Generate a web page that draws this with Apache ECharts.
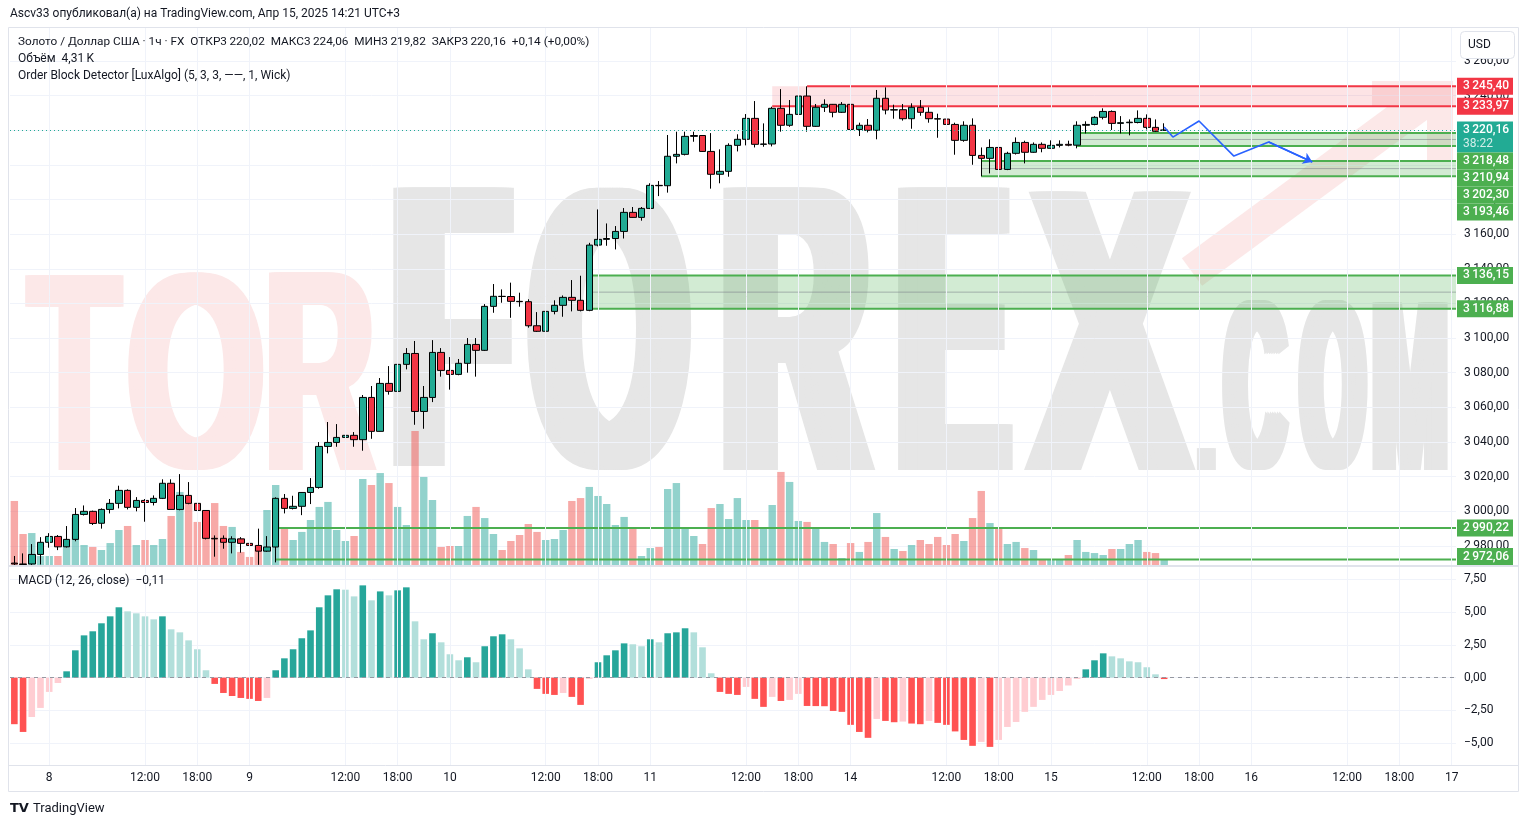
<!DOCTYPE html>
<html><head><meta charset="utf-8">
<script src="https://cdn.jsdelivr.net/npm/echarts@6/dist/echarts.min.js"></script>
<style>html,body{margin:0;padding:0;background:#fff;overflow:hidden}#c{width:1528px;height:827px}</style>
</head><body><div id="c"></div>
<script>
// ---------------- DATA ----------------
const opens  = [2970.0,2969.5,2969.5,2975.0,2982.0,2985.4,2979.4,2983.7,2998.1,2999.9,2993.0,3001.0,3004.5,3012.0,3002.2,3006.2,3005.0,3007.4,3016.1,3001.0,3009.1,3004.5,3000.4,2984.3,2984.3,2982.0,2984.0,2981.4,2980.2,2976.9,2979.3,3007.4,3001.6,3002.8,3010.8,3013.7,3037.4,3039.7,3042.6,3043.8,3041.3,3065.7,3046.1,3073.8,3069.2,3084.8,3091.1,3057.6,3065.7,3091.7,3081.3,3079.0,3085.4,3096.3,3092.9,3118.3,3124.1,3124.0,3121.2,3121.0,3107.1,3103.9,3115.4,3118.9,3123.5,3121.8,3116.0,3153.7,3157.0,3157.5,3161.6,3172.6,3169.7,3174.9,3188.2,3188.0,3205.0,3206.1,3216.5,3217.0,3207.8,3194.6,3196.3,3211.3,3214.8,3226.9,3211.9,3212.1,3232.7,3222.9,3229.2,3239.8,3222.3,3233.3,3235.0,3230.4,3235.0,3220.5,3222.9,3220.0,3238.5,3231.7,3231.9,3226.7,3233.3,3230.4,3226.7,3226.5,3223.4,3214.2,3222.9,3205.5,3203.8,3210.1,3197.4,3206.7,3213.0,3207.3,3211.9,3209.6,3211.3,3211.9,3211.4,3222.9,3223.4,3227.5,3230.9,3224.0,3224.4,3224.5,3226.9,3221.7,3220.02];
const closes = [2969.5,2969.2,2975.0,2982.0,2985.4,2979.4,2983.7,2998.1,2999.9,2992.9,3001.0,3004.5,3012.0,3002.2,3006.2,3005.0,3007.4,3016.1,3001.0,3009.1,3004.5,3000.4,2984.3,2984.0,2982.0,2984.0,2981.4,2980.2,2976.9,2979.3,3007.4,3001.6,3002.8,3010.8,3013.7,3037.4,3039.7,3042.6,3043.8,3041.3,3065.7,3046.1,3073.8,3069.2,3084.8,3091.1,3057.6,3065.7,3091.7,3081.3,3079.0,3085.4,3096.3,3092.9,3118.3,3124.1,3124.0,3121.2,3121.0,3107.1,3103.9,3115.4,3118.9,3123.5,3121.8,3116.0,3153.7,3157.0,3157.5,3161.6,3172.6,3169.7,3174.9,3188.2,3188.0,3205.0,3206.1,3216.5,3217.0,3207.8,3194.6,3196.3,3211.3,3214.8,3226.9,3211.9,3212.1,3232.7,3222.9,3229.2,3239.8,3222.3,3233.3,3235.0,3230.4,3235.0,3220.5,3222.9,3220.0,3238.5,3231.7,3231.9,3226.7,3233.3,3230.4,3226.7,3226.5,3223.4,3214.2,3222.9,3205.5,3203.8,3210.1,3197.4,3206.7,3213.0,3207.3,3211.9,3209.6,3211.3,3211.9,3211.4,3222.9,3223.4,3227.5,3230.9,3224.0,3224.4,3224.7,3226.9,3221.7,3219.4,3220.16];
const lows   = [2968.5,2968.8,2968.9,2969.2,2978.9,2977.5,2979.0,2982.6,2997.5,2992.0,2989.9,2998.7,3001.6,3001.0,2999.9,2993.9,3003.3,3007.0,3001.0,3000.5,3004.0,3000.0,2983.7,2973.7,2978.3,2975.6,2976.0,2978.9,2969.0,2976.5,2970.4,2998.7,3001.0,2997.7,3004.1,3013.0,3033.4,3037.2,3037.8,3037.2,3034.9,3041.8,3046.0,3067.3,3064.4,3081.9,3049.9,3047.6,3063.0,3077.7,3070.2,3078.5,3080.0,3077.7,3092.5,3114.6,3120.4,3111.7,3118.1,3106.0,3103.5,3102.5,3113.7,3112.3,3115.4,3115.4,3115.5,3153.0,3153.3,3151.2,3157.5,3169.5,3167.8,3174.5,3182.0,3184.0,3200.9,3205.5,3213.4,3207.5,3186.3,3189.4,3193.2,3207.8,3211.3,3210.1,3210.5,3210.7,3219.2,3222.0,3229.0,3219.2,3222.0,3230.6,3227.5,3230.0,3208.2,3216.7,3218.8,3214.8,3229.2,3226.7,3225.6,3220.9,3228.4,3224.4,3215.7,3220.2,3205.9,3213.4,3200.1,3193.46,3195.1,3196.1,3197.0,3206.0,3200.9,3207.0,3207.3,3209.4,3210.1,3210.8,3209.6,3218.2,3222.9,3226.3,3220.2,3218.2,3217.1,3224.0,3220.5,3219.0,3219.82];
const highs  = [2974.1,2975.6,2981.0,2985.0,2987.3,2986.2,2991.4,3001.8,3003.3,3000.3,3001.6,3007.0,3014.7,3012.6,3008.1,3007.0,3009.1,3018.4,3018.4,3021.4,3016.8,3011.0,3000.5,2986.0,2986.0,2985.5,2985.0,2983.7,2989.9,2985.6,3008.0,3009.9,3008.9,3011.0,3019.1,3039.9,3051.5,3050.3,3048.4,3045.7,3067.1,3072.3,3076.9,3083.8,3085.0,3094.2,3098.3,3072.3,3098.8,3094.2,3089.0,3087.9,3100.0,3100.0,3119.6,3131.2,3128.1,3132.0,3126.2,3122.4,3115.0,3116.6,3121.8,3124.6,3133.5,3136.0,3155.0,3174.3,3166.2,3164.7,3175.1,3175.7,3175.7,3189.4,3190.7,3217.3,3219.2,3219.2,3219.2,3217.2,3218.4,3209.0,3212.5,3217.7,3229.4,3236.9,3224.0,3233.6,3243.8,3237.5,3241.3,3245.4,3235.2,3237.9,3235.2,3236.3,3235.2,3224.4,3226.5,3243.3,3244.8,3234.8,3235.2,3235.6,3237.5,3233.3,3229.6,3230.9,3224.4,3225.2,3226.9,3210.1,3214.8,3210.5,3207.6,3215.9,3214.0,3213.0,3213.0,3214.2,3214.2,3214.0,3225.2,3225.2,3228.2,3232.7,3231.5,3228.2,3226.3,3231.5,3229.2,3226.3,3224.06];
// volume, thousands
const volumes = [46.1,22.3,23.0,6.5,6.5,6.5,18.7,33.8,14.4,13.0,10.8,15.8,25.2,28.1,14.4,18.0,14.4,18.7,35.3,52.6,44.6,31.0,33.8,44.6,28.1,27.4,9.4,5.8,14.4,39.6,57.6,26.6,18.0,23.8,32.4,41.8,45.4,25.2,17.3,20.9,61.9,57.6,66.2,59.0,41.8,28.8,96.5,63.4,46.8,13.0,13.7,13.7,35.3,41.8,33.8,22.3,10.8,17.3,21.6,29.5,23.8,18.0,18.7,25.2,46.1,48.2,56.2,49.7,43.9,28.8,34.6,26.6,6.5,12.2,13.0,54.7,59.0,26.6,20.9,15.1,41.0,43.9,33.1,48.2,32.4,32.4,26.6,43.2,67.0,59.8,31.7,31.0,25.9,16.6,15.1,5.0,15.8,9.4,16.6,37.4,20.2,11.5,10.1,14.4,18.0,15.1,20.2,14.4,22.3,17.3,33.8,53.3,30.2,25.9,15.1,16.6,12.2,10.8,4.3,3.6,3.6,7.2,18.0,9.4,8.6,7.2,11.5,11.5,15.1,18.0,9.4,8.6,4.31];
// MACD (12, 26, close) histogram
const macdHist = [-3.55,-4.14,-3.0,-2.31,-1.09,-0.41,
 0.48,2.08,3.22,3.53,4.14,4.67,5.36,5.05,4.9,4.67,4.44,4.67,3.68,3.45,2.84,2.16,0.56,
 -0.48,-1.17,-1.4,-1.55,-1.62,-1.78,-1.55,
 0.56,1.47,2.16,3.0,3.6,5.36,6.27,6.73,6.7,6.19,7.03,5.89,6.57,6.27,6.65,6.88,4.29,2.92,3.38,2.69,1.78,1.32,1.55,1.17,2.39,3.15,3.3,2.92,2.23,0.63,
 -0.86,-1.24,-1.32,-1.17,-1.47,-2.08,-0.1,
 1.17,1.7,2.08,2.61,2.54,2.39,2.92,2.69,3.38,3.45,3.76,3.45,2.31,0.33,
 -1.09,-1.24,-1.32,-0.71,-1.62,-2.23,-1.47,-1.78,-1.7,-1.24,-2.16,-2.17,-2.18,-2.54,-2.61,-3.6,-4.14,-4.59,-3.15,-3.3,-3.4,-3.35,-3.5,-3.55,-3.3,-3.45,-3.6,-4.1,-4.75,-5.2,-4.9,-5.28,-4.75,-3.76,-3.38,-2.61,-2.23,-1.7,-1.32,-1.02,-0.6,-0.1,
 0.63,1.32,1.85,1.62,1.47,1.24,1.17,0.79,0.25,-0.11];
// Order Block Detector zones
const obStart = [66, 111, 122, 30, 87];
const obLow   = [3116.88, 3193.46, 3210.94, 2972.06, 3233.97];
const obHigh  = [3136.15, 3202.30, 3218.48, 2990.22, 3245.40];
const obKind  = [0, 0, 0, 2, 1];          // 0 green filled, 1 bearish red, 2 green lines only
const obTopFrom = [66, 111, 122, 30, 91];
// hand-drawn projection (bar index, price)
const projBars   = [132, 133, 136, 140, 144, 149];
const projPrices = [3221.9, 3216.1, 3225.4, 3205.1, 3213.2, 3201.7];
const lastPrice = 3220.16;
const priceTicks = [2980,3000,3020,3040,3060,3080,3100,3120,3140,3160,3180,3200,3220,3240,3260];
const macdTicks = [-5,-2.5,0,2.5,5,7.5];
const TOTAL_BARS = 166;

// ---------------- time axis (FX gold session: 01:00-23:00, Mon-Fri, UTC+3) ----------------
const cats = [], catLabel = [];
{
  let t = Date.UTC(2025, 3, 7, 20);
  while (cats.length < TOTAL_BARS) {
    const d = new Date(t), h = d.getUTCHours(), wd = d.getUTCDay();
    if (h !== 0 && wd !== 0 && wd !== 6) {
      cats.push(d.getUTCDate() + ' ' + h);
      catLabel.push(h === 1 ? String(d.getUTCDate()) : (h === 12 ? '12:00' : (h === 18 ? '18:00' : '')));
    }
    t += 3600000;
  }
}
const labelIdx = catLabel.map((l, i) => l ? i : -1).filter(i => i >= 0);

// ---------------- styles ----------------
const UP = '#22ab94', DOWN = '#f23645';
const VOL_UP = 'rgba(38,166,154,0.5)', VOL_DOWN = 'rgba(239,83,80,0.5)';
const GRID = '#f0f3fa', TXT = '#131722', FONT = 'Roboto, "Liberation Sans", sans-serif';
const fmtPrice = v => { const p = v.toFixed(2).split('.'); return p[0].replace(/\B(?=(\d{3})+(?!\d))/g, '\u2009') + ',' + p[1]; };
const fmtMacd = v => (v < 0 ? '\u2212' : '') + Math.abs(v).toFixed(2).replace('.', ',');

const candleData = opens.map((o, i) => [o, closes[i], lows[i], highs[i]]);
const volData = volumes.map((v, i) => ({ value: v, itemStyle: { color: closes[i] >= opens[i] ? VOL_UP : VOL_DOWN } }));
const macdData = macdHist.map((v, i) => {
  const prev = i > 0 ? macdHist[i - 1] : (v >= 0 ? -Infinity : Infinity);
  let c;
  if (v >= 0) c = prev < v ? '#26a69a' : '#b2dfdb';
  else c = prev < v ? '#ffcdd2' : '#ff5252';
  return { value: v, itemStyle: { color: c } };
});
const zoneData = obStart.map((s, i) => [s, obLow[i], obHigh[i], obKind[i], obTopFrom[i]]);

function renderZone(params, api) {
  const s = api.value(0), lo = api.value(1), hi = api.value(2), kind = api.value(3), topFrom = api.value(4);
  const cs = params.coordSys; const xr = cs.x + cs.width;
  const pHi = api.coord([s, hi]), pLo = api.coord([s, lo]), pTop = api.coord([topFrom, hi]);
  const x0 = pHi[0];
  const children = [];
  if (kind === 0) {
    children.push({ type: 'rect', shape: { x: x0, y: pHi[1], width: xr - x0, height: pLo[1] - pHi[1] }, style: { fill: 'rgba(76,175,80,0.25)' } });
    const mid = api.coord([s, (hi + lo) / 2]);
    children.push({ type: 'line', shape: { x1: x0, y1: mid[1], x2: xr, y2: mid[1] }, style: { stroke: 'rgba(120,123,134,0.55)', lineWidth: 1 } });
  } else if (kind === 1) {
    children.push({ type: 'rect', shape: { x: x0, y: pHi[1], width: xr - x0, height: pLo[1] - pHi[1] }, style: { fill: 'rgba(242,54,69,0.14)' } });
  }
  const col = kind === 1 ? '#f23645' : '#4caf50';
  children.push({ type: 'line', shape: { x1: pTop[0], y1: pHi[1], x2: xr, y2: pHi[1] }, style: { stroke: col, lineWidth: 2 } });
  children.push({ type: 'line', shape: { x1: x0, y1: pLo[1], x2: xr, y2: pLo[1] }, style: { stroke: col, lineWidth: 2 } });
  return { type: 'group', children };
}

const chart = echarts.init(document.getElementById('c'), null, { renderer: 'canvas', width: 1528, height: 827 });

const vLines = labelIdx.map(i => ({ xAxis: i }));
chart.setOption({
  animation: false,
  backgroundColor: '#ffffff',
  textStyle: { fontFamily: FONT },
  grid: [
    { left: 10, top: 28, width: 1446, height: 537 },
    { left: 10, top: 567, width: 1446, height: 198 }
  ],
  xAxis: [
    { type: 'category', gridIndex: 0, data: cats, boundaryGap: true, axisLine: { show: false }, axisTick: { show: false }, axisLabel: { show: false }, splitLine: { show: false } },
    { type: 'category', gridIndex: 1, data: cats, boundaryGap: true, axisLine: { show: false }, axisTick: { show: false }, splitLine: { show: false },
      axisLabel: { interval: i => catLabel[i] !== '', formatter: (v, i) => catLabel[i], color: TXT, fontSize: 12, fontFamily: FONT, margin: 7 } }
  ],
  yAxis: [
    { type: 'value', gridIndex: 0, position: 'right', min: 2968.9, max: 3279.1,
      axisLine: { show: false }, axisTick: { show: false, customValues: priceTicks },
      axisLabel: { customValues: priceTicks, formatter: fmtPrice, color: TXT, fontSize: 12, fontFamily: FONT, margin: 8 },
      splitLine: { show: true, lineStyle: { color: GRID, width: 1 } } },
    { type: 'value', gridIndex: 0, min: 0, max: 386.6, show: false, splitLine: { show: false } },
    { type: 'value', gridIndex: 1, position: 'right', min: -6.66, max: 8.43,
      axisLine: { show: false }, axisTick: { show: false, customValues: macdTicks },
      axisLabel: { customValues: macdTicks, formatter: fmtMacd, color: TXT, fontSize: 12, fontFamily: FONT, margin: 8 },
      splitLine: { show: true, lineStyle: { color: GRID, width: 1 } } }
  ],
  series: [
    { type: 'line', xAxisIndex: 0, yAxisIndex: 0, data: [], silent: true, z: 0,
      markLine: { silent: true, symbol: 'none', label: { show: false }, lineStyle: { color: GRID, width: 1, type: 'solid' }, data: vLines } },
    { type: 'line', xAxisIndex: 1, yAxisIndex: 2, data: [], silent: true, z: 0,
      markLine: { silent: true, symbol: 'none', label: { show: false }, lineStyle: { color: GRID, width: 1, type: 'solid' }, data: vLines } },
    { name: 'Volume', type: 'bar', xAxisIndex: 0, yAxisIndex: 1, data: volData, barWidth: 7.4, z: 1, silent: true },
    { name: 'OB', type: 'custom', xAxisIndex: 0, yAxisIndex: 0, data: zoneData, renderItem: renderZone, z: 2, silent: true, clip: true },
    { name: 'XAUUSD', type: 'candlestick', xAxisIndex: 0, yAxisIndex: 0, data: candleData, barWidth: 7, z: 3, clip: true,
      itemStyle: { color: UP, color0: DOWN, borderColor: '#000', borderColor0: '#000', borderColorDoji: '#000', borderWidth: 1 },
      markLine: { silent: true, symbol: 'none', label: { show: false }, lineStyle: { color: '#22ab94', type: [1, 3], width: 1 }, data: [{ yAxis: lastPrice }] } },
    { name: 'proj', type: 'line', xAxisIndex: 0, yAxisIndex: 0, data: projBars.map((b, i) => [b, projPrices[i]]), showSymbol: false, symbol: 'none',
      lineStyle: { color: '#2962ff', width: 1.6 }, z: 5, silent: true },
    { name: 'projArrow', type: 'lines', coordinateSystem: 'cartesian2d', xAxisIndex: 0, yAxisIndex: 0, z: 5, silent: true,
      symbol: ['none', 'arrow'], symbolSize: 9,
      lineStyle: { color: '#2962ff', width: 1.6, opacity: 1 },
      data: [{ coords: [[projBars[4], projPrices[4]], [projBars[5], projPrices[5]]] }] },
    { name: 'MACD', type: 'bar', xAxisIndex: 1, yAxisIndex: 2, data: macdData, barWidth: 6.6, z: 2, silent: true,
      markLine: { silent: true, symbol: 'none', label: { show: false }, lineStyle: { color: '#9598a1', type: [4, 4], width: 1 }, data: [{ yAxis: 0 }] } }
  ]
});

// ---------------- watermark (heavy condensed letters, stems thickened by horizontal smearing) ----------------
const mctx = document.createElement('canvas').getContext('2d');
const WM_FONT = '"Liberation Sans Narrow", "Liberation Sans", sans-serif';
function wmLetter(ch, l, r, t, b, fill, d) {
  mctx.textBaseline = 'middle'; mctx.textAlign = 'left';
  mctx.font = 'bold 100px ' + WM_FONT;
  const m = mctx.measureText(ch);
  const h0 = m.actualBoundingBoxAscent + m.actualBoundingBoxDescent;
  const k = (b - t) / h0;
  const fs = 100 * k;
  const inkW = (m.actualBoundingBoxLeft + m.actualBoundingBoxRight) * k;
  const s = (r - l - d) / inkW;
  const x0 = l + m.actualBoundingBoxLeft * k * s;
  const y = t + m.actualBoundingBoxAscent * k;
  const n = Math.max(2, Math.ceil(d / 2.5) + 1);
  const out = [];
  for (let j = 0; j < n; j++) {
    out.push({ type: 'text', x: x0 + j * d / (n - 1), y, scaleX: s, z: -5, silent: true,
      style: { text: ch, font: 'bold ' + fs.toFixed(1) + 'px ' + WM_FONT, fill, align: 'left', verticalAlign: 'middle' } });
  }
  return out;
}
const PINK = '#fce8e8', GREY = '#e6e6e6';
const wm = [].concat(
  wmLetter('T', 25, 125, 272, 470, PINK, 10), wmLetter('O', 128, 264, 272, 470, PINK, 14), wmLetter('R', 268, 378, 272, 470, PINK, 12),
  wmLetter('F', 392, 515, 187, 470, GREY, 24), wmLetter('O', 527, 692, 187, 470, GREY, 26), wmLetter('R', 722, 877, 187, 470, GREY, 26),
  wmLetter('E', 897, 1013, 187, 470, GREY, 24), wmLetter('X', 1022, 1196, 187, 470, GREY, 22),
  wmLetter('.', 1196, 1216, 448, 470, GREY, 2), wmLetter('C', 1222, 1290, 300, 470, GREY, 14), wmLetter('O', 1298, 1368, 300, 470, GREY, 14), wmLetter('M', 1372, 1448, 300, 470, GREY, 12),
  [{ type: 'polyline', z: -5, silent: true, shape: { points: [[1192, 272], [1428, 98]] }, style: { stroke: PINK, lineWidth: 34, fill: null } },
   { type: 'polyline', z: -5, silent: true, shape: { points: [[1372, 94], [1440, 94], [1440, 160]] }, style: { stroke: PINK, lineWidth: 26, fill: null, lineJoin: 'miter' } }]
);

// ---------------- price labels on the right scale ----------------
const lbls = [
  { v: 3245.40, bg: '#f23645' }, { v: 3233.97, bg: '#f23645' }, { v: lastPrice, bg: '#22ab94', sub: '38:22' },
  { v: 3218.48, bg: '#4caf50' }, { v: 3210.94, bg: '#4caf50' }, { v: 3202.30, bg: '#4caf50' }, { v: 3193.46, bg: '#4caf50' },
  { v: 3136.15, bg: '#4caf50' }, { v: 3116.88, bg: '#4caf50' }, { v: 2990.22, bg: '#4caf50' }, { v: 2972.06, bg: '#4caf50' }
];
const BOXH = 17, paneBottom = 565;
let prevBottom = -1e9;
const boxes = [];
lbls.forEach(L => {
  const y = chart.convertToPixel({ yAxisIndex: 0 }, L.v);
  const h = L.sub ? 31 : BOXH;
  let top = y - BOXH / 2;
  if (top < prevBottom) top = prevBottom;
  if (top + h > paneBottom) top = paneBottom - h;
  prevBottom = top + h;
  boxes.push({ type: 'rect', z: 50, silent: true, shape: { x: 1457, y: top, width: 56, height: h }, style: { fill: L.bg } });
  boxes.push({ type: 'text', z: 51, silent: true, x: 1463, y: top + BOXH / 2, style: { text: fmtPrice(L.v), font: '500 12px ' + FONT, fill: '#ffffff', align: 'left', verticalAlign: 'middle' } });
  if (L.sub) boxes.push({ type: 'text', z: 51, silent: true, x: 1463, y: top + BOXH / 2 + 14, style: { text: L.sub, font: '12px ' + FONT, fill: 'rgba(255,255,255,0.8)', align: 'left', verticalAlign: 'middle' } });
});

// ---------------- frame, legends, texts ----------------
const frame = [
  { type: 'rect', z: 40, silent: true, shape: { x: 8.5, y: 27.5, width: 1510, height: 764 }, style: { fill: null, stroke: '#e0e3eb', lineWidth: 1 } },
  { type: 'line', z: 40, silent: true, shape: { x1: 8, y1: 566, x2: 1518, y2: 566 }, style: { stroke: '#e0e3eb', lineWidth: 2 } },
  { type: 'line', z: 40, silent: true, shape: { x1: 8, y1: 765.5, x2: 1518, y2: 765.5 }, style: { stroke: '#e0e3eb', lineWidth: 1 } },
  { type: 'rect', z: 60, silent: true, shape: { x: 1460.5, y: 31.5, width: 54, height: 27, r: 4 }, style: { fill: '#ffffff', stroke: '#e0e3eb', lineWidth: 1 } },
  { type: 'text', z: 61, silent: true, x: 1468, y: 45, style: { text: 'USD', font: '12px ' + FONT, fill: TXT, align: 'left', verticalAlign: 'middle' } },
  { type: 'text', z: 61, silent: true, x: 10, y: 14, style: { text: 'Ascv33 опубликовал(а) на TradingView.com, Апр 15, 2025 14:21 UTC+3', font: '12px ' + FONT, fill: TXT, align: 'left', verticalAlign: 'middle' } },
  { type: 'text', z: 61, silent: true, x: 18, y: 42, style: { text: 'Золото / Доллар США · 1ч · FX  ОТКР3\u2009220,02  МАКС3\u2009224,06  МИН3\u2009219,82  ЗАКР3\u2009220,16  +0,14 (+0,00%)', font: '11.8px ' + FONT, fill: TXT, align: 'left', verticalAlign: 'middle' } },
  { type: 'text', z: 61, silent: true, x: 18, y: 59, style: { text: '{a|Объём}  {b|4,31\u2009K}', font: '12px ' + FONT, fill: TXT, align: 'left', verticalAlign: 'middle',
      rich: { a: { fontSize: 12, fontFamily: FONT, color: TXT }, b: { fontSize: 12, fontFamily: FONT, color: '#22ab94' } } } },
  { type: 'text', z: 61, silent: true, x: 18, y: 76, style: { text: 'Order Block Detector [LuxAlgo] (5, 3, 3, ——, 1, Wick)', font: '12px ' + FONT, fill: TXT, align: 'left', verticalAlign: 'middle' } },
  { type: 'text', z: 61, silent: true, x: 18, y: 581, style: { text: '{a|MACD (12, 26, close)}  {b|\u22120,11}', font: '12px ' + FONT, fill: TXT, align: 'left', verticalAlign: 'middle',
      rich: { a: { fontSize: 12, fontFamily: FONT, color: TXT }, b: { fontSize: 12, fontFamily: FONT, color: '#ff5252' } } } },
  { type: 'text', z: 61, silent: true, x: 10, y: 809, style: { text: 'TV', font: '900 13px "DejaVu Sans", sans-serif', fill: '#131722', align: 'left', verticalAlign: 'middle' } },
  { type: 'text', z: 61, silent: true, x: 33, y: 809, style: { text: 'TradingView', font: '13px ' + FONT, fill: TXT, align: 'left', verticalAlign: 'middle' } }
];

chart.setOption({ graphic: { elements: wm.concat(boxes, frame) } });
</script>
</body></html>
